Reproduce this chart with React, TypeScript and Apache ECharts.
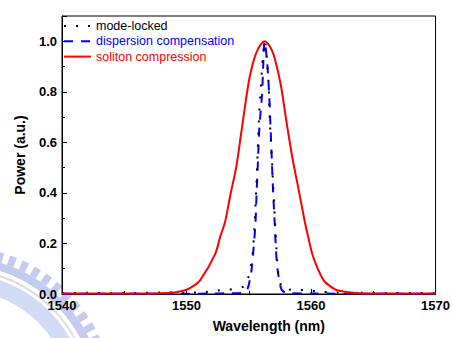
import React, { useEffect, useRef } from "react";
import * as echarts from "echarts";

// Wavelength (nm) / normalized power readings
const modeLockedX = [1540, 1542, 1544, 1546, 1548, 1550, 1551.5, 1552.5, 1553.4, 1554.1, 1554.6, 1554.9, 1555.2, 1555.35, 1555.5, 1555.62, 1555.72, 1555.82, 1555.98, 1556.15, 1556.3, 1556.45, 1556.6, 1556.68, 1556.82, 1556.95, 1557.08, 1557.22, 1557.4, 1557.7, 1558.1, 1559.0, 1559.5, 1560.5, 1562, 1564, 1566, 1568, 1570];
const modeLockedY = [0.003, 0.005, 0.003, 0.004, 0.006, 0.005, 0.008, 0.014, 0.017, 0.023, 0.03, 0.055, 0.12, 0.18, 0.31, 0.44, 0.569, 0.696, 0.824, 0.95, 1.0, 0.93, 0.824, 0.696, 0.569, 0.44, 0.31, 0.18, 0.07, 0.025, 0.019, 0.014, 0.017, 0.01, 0.006, 0.005, 0.004, 0.004, 0.003];

const dispersionX = [1540, 1550, 1552, 1553.5, 1554.5, 1554.87, 1555.18, 1555.32, 1555.53, 1555.63, 1555.74, 1555.85, 1556.06, 1556.17, 1556.27, 1556.48, 1556.64, 1556.75, 1556.85, 1556.96, 1557.09, 1557.22, 1557.36, 1557.64, 1558.1, 1560, 1565, 1570];
const dispersionY = [0.001, 0.001, 0.002, 0.003, 0.005, 0.017, 0.081, 0.145, 0.273, 0.4, 0.53, 0.658, 0.786, 0.915, 1.0, 0.915, 0.786, 0.658, 0.53, 0.4, 0.273, 0.145, 0.081, 0.017, 0.004, 0.002, 0.001, 0.001];

const solitonX = [1540, 1545, 1548.5, 1549.9, 1550.5, 1551.1, 1552.3, 1552.7, 1553.1, 1553.5, 1554.0, 1554.4, 1555.0, 1555.4, 1555.7, 1556.0, 1556.27, 1556.55, 1556.85, 1557.1, 1557.6, 1558.0, 1558.5, 1559.0, 1559.5, 1559.8, 1560.1, 1560.5, 1561.0, 1561.5, 1562.1, 1563.6, 1565, 1570];
const solitonY = [0.002, 0.002, 0.004, 0.015, 0.03, 0.055, 0.158, 0.226, 0.286, 0.387, 0.504, 0.64, 0.84, 0.925, 0.965, 0.99, 1.0, 0.99, 0.965, 0.93, 0.82, 0.69, 0.54, 0.414, 0.286, 0.22, 0.158, 0.105, 0.055, 0.032, 0.015, 0.004, 0.002, 0.002];

const seriesNames = ["mode-locked", "dispersion compensation", "soliton compression"];
const seriesColors = ["#000000", "#0000ff", "#ff0000"];

const xTicks = { min: 1540, max: 1570, interval: 10 };
const yTicks = { min: 0, max: 1.1, interval: 0.2 };

const FONT = "'Liberation Sans', Arial, Helvetica, sans-serif";

const zip = (xs: number[], ys: number[]) => xs.map((x, i) => [x, ys[i]]);

export default function App() {
  const ref = useRef<HTMLDivElement>(null);
  useEffect(() => {
    document.body.style.margin = "0";
    const chart = echarts.init(ref.current!, null, { renderer: "svg" });
    const cx = -40;
    const cy = 400;
    const a0 = -1.5;
    const a1 = -0.25;
    chart.setOption({
      animation: false,
      backgroundColor: "#ffffff",
      graphic: [
        { type: "arc", z: -10, shape: { cx, cy, r: 148, startAngle: a0, endAngle: a1, clockwise: true }, style: { fill: null, stroke: "#c3cbee", lineWidth: 10, lineDash: [7, 6] } },
        { type: "arc", z: -10, shape: { cx, cy, r: 139, startAngle: a0, endAngle: a1, clockwise: true }, style: { fill: null, stroke: "#c3cbee", lineWidth: 8 } },
        { type: "arc", z: -10, shape: { cx, cy, r: 130, startAngle: a0, endAngle: a1, clockwise: true }, style: { fill: null, stroke: "#dddddd", lineWidth: 2 } },
        { type: "arc", z: -10, shape: { cx, cy, r: 118, startAngle: a0, endAngle: a1, clockwise: true }, style: { fill: null, stroke: "#d3daf3", lineWidth: 16 } },
      ],
      grid: {
        left: 62,
        right: 13,
        top: 16,
        bottom: 37,
        show: true,
        borderColor: "#000",
        borderWidth: 1,
        backgroundColor: "#ffffff",
        z: 0,
      },
      legend: {
        orient: "vertical",
        left: 63,
        top: 19.5,
        padding: 0,
        itemWidth: 27,
        itemHeight: 14,
        itemGap: 2.3,
        itemStyle: { color: "transparent", borderColor: "transparent", borderWidth: 0, opacity: 0 },
        textStyle: { fontSize: 12.5, fontFamily: FONT },
        data: seriesNames.map((n, i) => ({ name: n, textStyle: { color: seriesColors[i] } })),
      },
      xAxis: {
        type: "value",
        min: xTicks.min,
        max: xTicks.max,
        interval: xTicks.interval,
        name: "Wavelength (nm)",
        nameLocation: "middle",
        nameGap: 25,
        nameTextStyle: { fontSize: 14, fontWeight: "bold", fontFamily: FONT, color: "#000", padding: [0, 0, 0, 40] },
        axisLine: { lineStyle: { color: "#000", width: 1 } },
        axisTick: { inside: true, length: 5, lineStyle: { color: "#000" } },
        minorTick: { show: true, splitNumber: 2, length: 3, lineStyle: { color: "#000" } },
        splitLine: { show: false },
        axisLabel: { fontSize: 13, fontWeight: "bold", fontFamily: FONT, color: "#000", margin: 5, formatter: (v: number) => String(v) },
      },
      yAxis: [
        {
          type: "value",
          min: yTicks.min,
          max: yTicks.max,
          interval: yTicks.interval,
          name: "Power (a.u.)",
          nameLocation: "middle",
          nameGap: 35,
          nameTextStyle: { fontSize: 14, fontWeight: "bold", fontFamily: FONT, color: "#000" },
          axisLine: { show: true, lineStyle: { color: "#000", width: 1 } },
          axisTick: { inside: true, length: 5, lineStyle: { color: "#000" } },
          splitLine: { show: false },
          axisLabel: {
            fontSize: 13,
            fontWeight: "bold",
            fontFamily: FONT,
            color: "#000",
            margin: 5,
            formatter: (v: number) => (v > 1.05 ? "" : v.toFixed(1)),
          },
        },
        {
          type: "value",
          min: yTicks.min,
          max: yTicks.max,
          interval: 0.1,
          position: "left",
          axisLine: { show: false },
          axisTick: { inside: true, length: 3, lineStyle: { color: "#000" } },
          splitLine: { show: false },
          axisLabel: { show: false },
        },
      ],
      series: [
        {
          name: seriesNames[1],
          type: "line",
          data: zip(dispersionX, dispersionY),
          symbol: "none",
          smooth: 0.3,
          lineStyle: { color: seriesColors[1], width: 2, type: [9, 8] },
          itemStyle: { color: seriesColors[1] },
        },
        {
          name: seriesNames[0],
          type: "line",
          data: zip(modeLockedX, modeLockedY),
          symbol: "none",
          smooth: 0.3,
          lineStyle: { color: seriesColors[0], width: 2, type: [2, 10] },
          itemStyle: { color: seriesColors[0] },
        },
        {
          name: seriesNames[2],
          type: "line",
          data: zip(solitonX, solitonY),
          symbol: "none",
          smooth: 0.3,
          lineStyle: { color: seriesColors[2], width: 2 },
          itemStyle: { color: seriesColors[2] },
        },
      ],
    });
    return () => chart.dispose();
  }, []);
  return <div ref={ref} style={{ width: 453, height: 338 }} />;
}
